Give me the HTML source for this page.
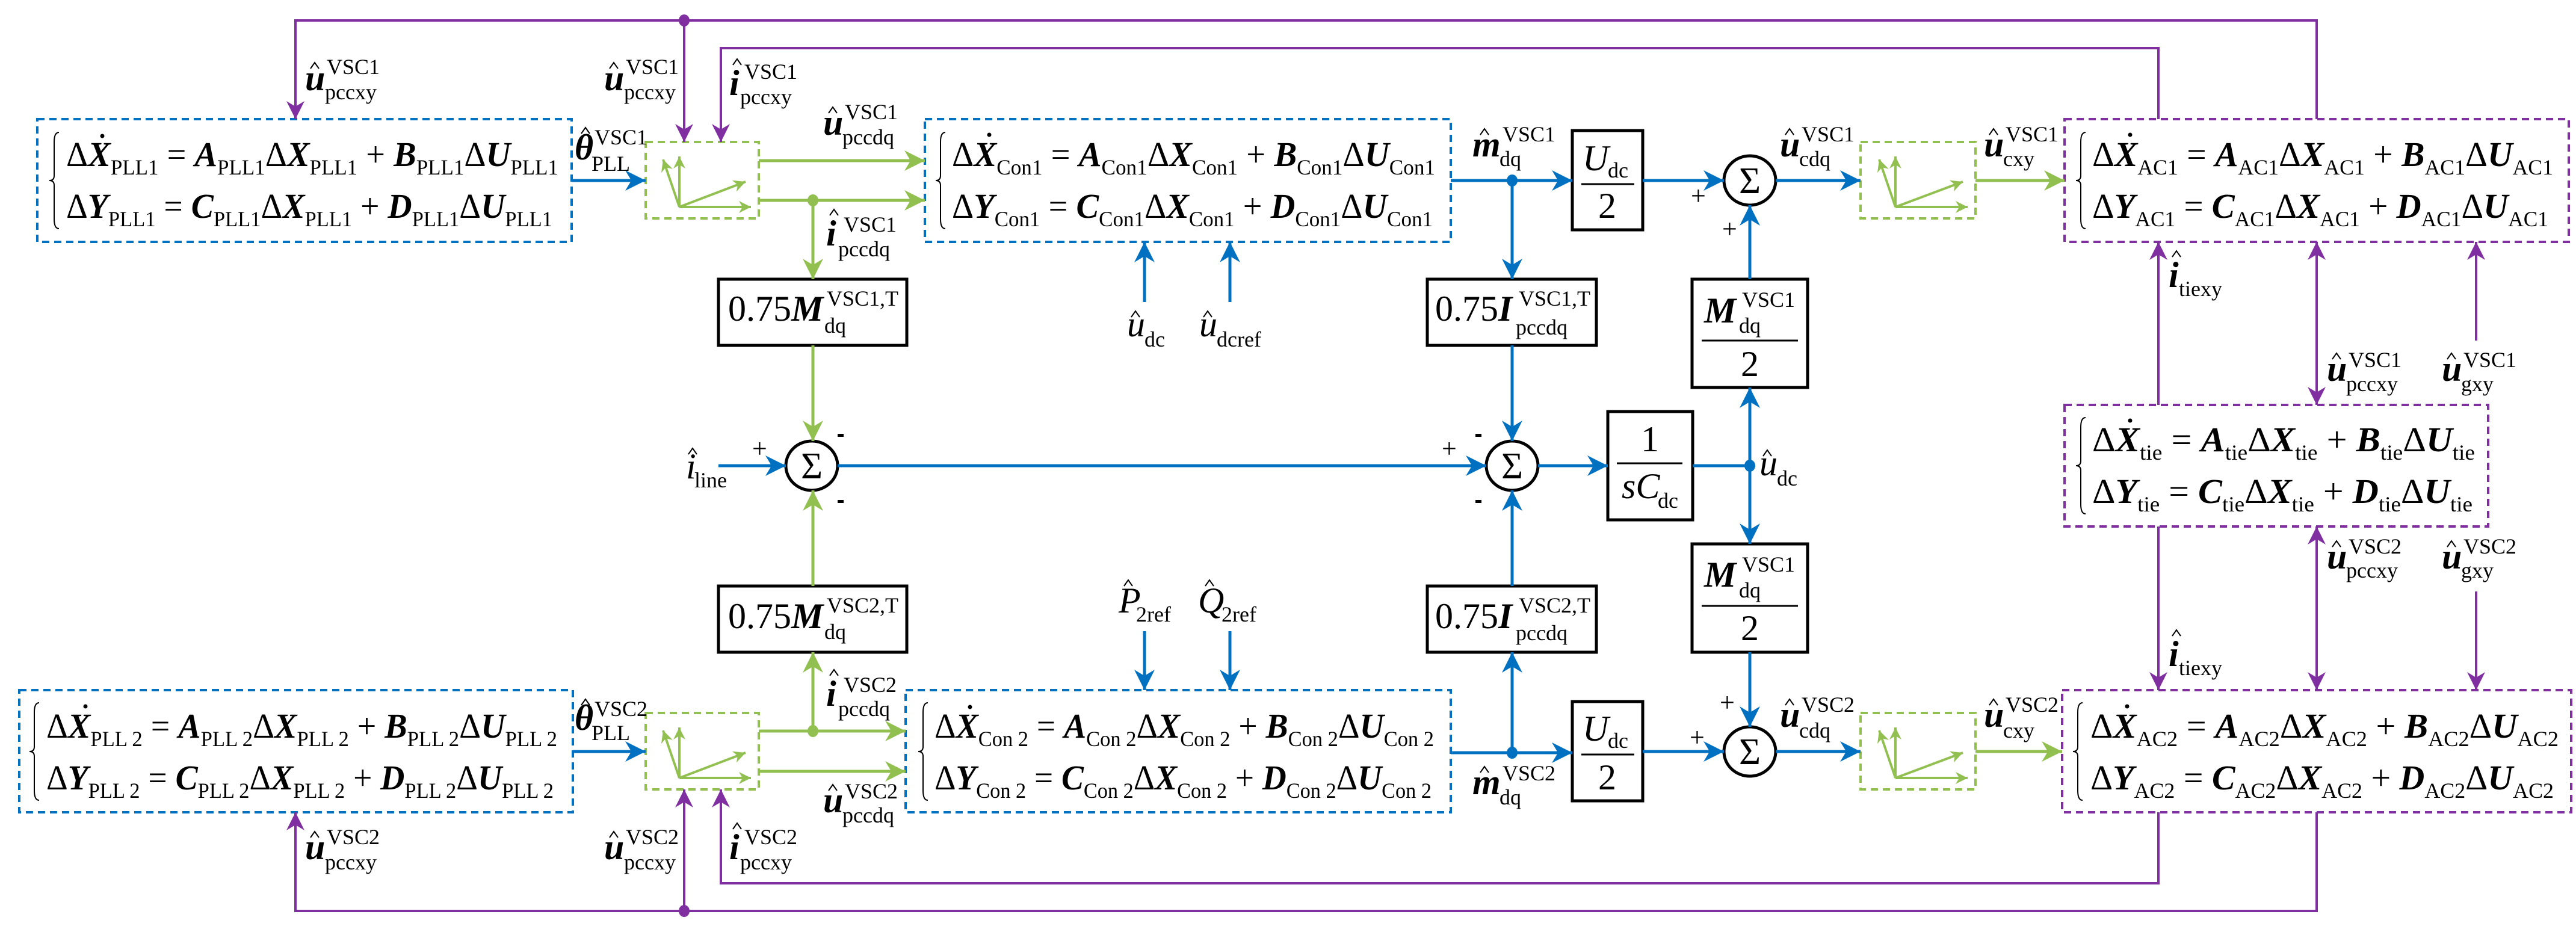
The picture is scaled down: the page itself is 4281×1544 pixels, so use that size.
<!DOCTYPE html>
<html><head><meta charset="utf-8"><style>
html,body{margin:0;padding:0;background:#fff}
svg{display:block;font-family:"Liberation Serif","DejaVu Serif",serif}
text,tspan{font-family:"Liberation Serif","DejaVu Serif",serif;fill:#000}
.eq{font-size:58px}
.bi{font-weight:bold;font-style:italic}
.it{font-style:italic}
.sb{font-size:36px}
.m{font-size:60px;font-weight:bold;font-style:italic}
.mi{font-size:60px;font-style:italic}
.s{font-size:36px}
.n{font-size:60px}
</style></head><body>
<svg width="4281" height="1544" viewBox="0 0 4281 1544" xmlns="http://www.w3.org/2000/svg" font-family="Liberation Serif, DejaVu Serif, serif">
<defs>
<marker id="ab" viewBox="0 0 10 10" refX="10" refY="5" markerWidth="38" markerHeight="34" markerUnits="userSpaceOnUse" orient="auto-start-reverse"><path d="M0,0L10,5L0,10L3,5z" fill="#0070C0"/></marker>
<marker id="ag" viewBox="0 0 10 10" refX="10" refY="5" markerWidth="38" markerHeight="34" markerUnits="userSpaceOnUse" orient="auto-start-reverse"><path d="M0,0L10,5L0,10L3,5z" fill="#92C050"/></marker>
<marker id="ags" viewBox="0 0 10 10" refX="10" refY="5" markerWidth="24" markerHeight="20" markerUnits="userSpaceOnUse" orient="auto-start-reverse"><path d="M0,0L10,5L0,10L3,5z" fill="#92C050"/></marker>
<marker id="ap" viewBox="0 0 10 10" refX="10" refY="5" markerWidth="36" markerHeight="30" markerUnits="userSpaceOnUse" orient="auto-start-reverse"><path d="M0,0L10,5L0,10L3,5z" fill="#7F2FA0"/></marker>
</defs>

<g fill="none" stroke-width="4" stroke-dasharray="12 8">
<rect x="62" y="198" width="888" height="204" stroke="#0070C0"/>
<rect x="1537" y="198" width="874" height="204" stroke="#0070C0"/>
<rect x="32" y="1147" width="920" height="203" stroke="#0070C0"/>
<rect x="1505" y="1147" width="906" height="203" stroke="#0070C0"/>
<rect x="1073" y="236" width="188" height="127" stroke="#92C050"/>
<rect x="1073" y="1185" width="188" height="127" stroke="#92C050"/>
<rect x="3092" y="236" width="191" height="127" stroke="#92C050"/>
<rect x="3092" y="1185" width="191" height="127" stroke="#92C050"/>
<rect x="3431" y="198" width="838" height="204" stroke="#7F2FA0"/>
<rect x="3431" y="673" width="704" height="202" stroke="#7F2FA0"/>
<rect x="3427" y="1147" width="846" height="203" stroke="#7F2FA0"/>
</g>

<g stroke="#92C050" stroke-width="4" fill="none">
<path d="M1129,344V260" marker-end="url(#ags)"/><path d="M1129,344L1102,265" marker-end="url(#ags)"/>
<path d="M1129,344H1248" marker-end="url(#ags)"/><path d="M1129,344L1239,302" marker-end="url(#ags)"/>
<path d="M1129,1293V1209" marker-end="url(#ags)"/><path d="M1129,1293L1102,1214" marker-end="url(#ags)"/>
<path d="M1129,1293H1248" marker-end="url(#ags)"/><path d="M1129,1293L1239,1251" marker-end="url(#ags)"/>
<path d="M3150,344V260" marker-end="url(#ags)"/><path d="M3150,344L3123,265" marker-end="url(#ags)"/>
<path d="M3150,344H3270" marker-end="url(#ags)"/><path d="M3150,344L3262,302" marker-end="url(#ags)"/>
<path d="M3150,1293V1209" marker-end="url(#ags)"/><path d="M3150,1293L3123,1214" marker-end="url(#ags)"/>
<path d="M3150,1293H3270" marker-end="url(#ags)"/><path d="M3150,1293L3262,1251" marker-end="url(#ags)"/>
</g>

<g fill="none" stroke="#000" stroke-width="5">
<rect x="1194" y="464" width="313" height="110"/>
<rect x="1194" y="974" width="313" height="110"/>
<rect x="2372" y="464" width="281" height="110"/>
<rect x="2372" y="974" width="281" height="110"/>
<rect x="2613" y="217" width="117" height="165"/>
<rect x="2613" y="1166" width="117" height="165"/>
<rect x="2672" y="684" width="141" height="180"/>
<rect x="2812" y="464" width="192" height="180"/>
<rect x="2812" y="904" width="192" height="180"/>
<ellipse cx="1349" cy="774" rx="43" ry="41"/>
<ellipse cx="2513" cy="774" rx="43" ry="41"/>
<ellipse cx="2908" cy="300" rx="43" ry="41"/>
<ellipse cx="2908" cy="1249" rx="43" ry="41"/>
<path d="M2628,306H2716M2628,1254H2716M2687,770H2796M2828,566H2988M2828,1007H2988" stroke-width="3"/>
</g>
<g font-size="62" text-anchor="middle">
<text x="1349" y="795">Σ</text><text x="2513" y="795">Σ</text>
<text x="2908" y="321">Σ</text><text x="2908" y="1270">Σ</text>
</g>

<g stroke="#0070C0" stroke-width="5" fill="none">
<path d="M950,300H1073" marker-end="url(#ab)"/>
<path d="M952,1249H1073" marker-end="url(#ab)"/>
<path d="M2411,300H2613" marker-end="url(#ab)"/>
<path d="M2513,300V464" marker-end="url(#ab)"/>
<path d="M2730,300H2865" marker-end="url(#ab)"/>
<path d="M2951,300H3092" marker-end="url(#ab)"/>
<path d="M1194,774H1306" marker-end="url(#ab)"/>
<path d="M1392,774H2470" marker-end="url(#ab)"/>
<path d="M2513,574V733" marker-end="url(#ab)"/>
<path d="M2556,774H2672" marker-end="url(#ab)"/>
<path d="M2813,774H2908"/>
<path d="M2908,774V644" marker-end="url(#ab)"/>
<path d="M2908,774V904" marker-end="url(#ab)"/>
<path d="M2908,464V341" marker-end="url(#ab)"/>
<path d="M2908,1084V1208" marker-end="url(#ab)"/>
<path d="M2411,1251H2613" marker-end="url(#ab)"/>
<path d="M2513,1251V1084" marker-end="url(#ab)"/>
<path d="M2513,974V815" marker-end="url(#ab)"/>
<path d="M2730,1249H2865" marker-end="url(#ab)"/>
<path d="M2951,1249H3092" marker-end="url(#ab)"/>
<path d="M1902,502V402" marker-end="url(#ab)"/>
<path d="M2044,502V402" marker-end="url(#ab)"/>
<path d="M1902,1049V1147" marker-end="url(#ab)"/>
<path d="M2044,1049V1147" marker-end="url(#ab)"/>
</g>
<g fill="#0070C0"><ellipse cx="2513" cy="300" rx="9" ry="10"/><ellipse cx="2513" cy="1251" rx="9" ry="10"/><ellipse cx="2908" cy="774" rx="9" ry="10"/></g>

<g stroke="#92C050" stroke-width="5" fill="none">
<path d="M1261,267H1537" marker-end="url(#ag)"/>
<path d="M1261,333H1537" marker-end="url(#ag)"/>
<path d="M1351,333V464" marker-end="url(#ag)"/>
<path d="M1351,574V733" marker-end="url(#ag)"/>
<path d="M1261,1215H1505" marker-end="url(#ag)"/>
<path d="M1261,1282H1505" marker-end="url(#ag)"/>
<path d="M1351,1215V1084" marker-end="url(#ag)"/>
<path d="M1351,974V815" marker-end="url(#ag)"/>
<path d="M3283,300H3431" marker-end="url(#ag)"/>
<path d="M3283,1249H3427" marker-end="url(#ag)"/>
</g>
<g fill="#92C050"><ellipse cx="1351" cy="333" rx="9" ry="10"/><ellipse cx="1351" cy="1215" rx="9" ry="10"/></g>

<g stroke="#7F2FA0" stroke-width="4" fill="none">
<path d="M3850,198V34H491V198" marker-end="url(#ap)"/>
<path d="M1137,34V236" marker-end="url(#ap)"/>
<path d="M3587,198V80H1198V236" marker-end="url(#ap)"/>
<path d="M3850,1350V1514H491V1350" marker-end="url(#ap)"/>
<path d="M1137,1514V1312" marker-end="url(#ap)"/>
<path d="M3587,1350V1468H1198V1312" marker-end="url(#ap)"/>
<path d="M3587,673V402" marker-end="url(#ap)"/>
<path d="M3850,673V402" marker-start="url(#ap)" marker-end="url(#ap)"/>
<path d="M4115,566V402" marker-end="url(#ap)"/>
<path d="M3587,875V1147" marker-end="url(#ap)"/>
<path d="M3850,875V1147" marker-start="url(#ap)" marker-end="url(#ap)"/>
<path d="M4115,983V1147" marker-end="url(#ap)"/>
</g>
<g fill="#7F2FA0"><ellipse cx="1137" cy="34" rx="9" ry="10"/><ellipse cx="1137" cy="1514" rx="9" ry="10"/></g>

<g fill="none" stroke="#000" stroke-width="2">
<path d="M98,220Q90,220 90,236V292Q90,300 82,300Q90,300 90,308V364Q90,380 98,380"/>
<path d="M1571,220Q1563,220 1563,236V292Q1563,300 1555,300Q1563,300 1563,308V364Q1563,380 1571,380"/>
<path d="M3466,220Q3458,220 3458,236V292Q3458,300 3450,300Q3458,300 3458,308V364Q3458,380 3466,380"/>
<path d="M3466,694Q3458,694 3458,710V766Q3458,774 3450,774Q3458,774 3458,782V838Q3458,854 3466,854"/>
<path d="M65,1168Q57,1168 57,1184V1241Q57,1249 49,1249Q57,1249 57,1257V1314Q57,1330 65,1330"/>
<path d="M1542,1168Q1534,1168 1534,1184V1241Q1534,1249 1526,1249Q1534,1249 1534,1257V1314Q1534,1330 1542,1330"/>
<path d="M3461,1168Q3453,1168 3453,1184V1241Q3453,1249 3445,1249Q3453,1249 3453,1257V1314Q3453,1330 3461,1330"/>
</g>

<g class="eq">
<text x="110" y="276" textLength="818" lengthAdjust="spacingAndGlyphs">Δ<tspan class="bi">X</tspan><tspan class="sb" dy="14">PLL1</tspan><tspan dy="-14"> = </tspan><tspan class="bi">A</tspan><tspan class="sb" dy="14">PLL1</tspan><tspan dy="-14">Δ</tspan><tspan class="bi">X</tspan><tspan class="sb" dy="14">PLL1</tspan><tspan dy="-14"> + </tspan><tspan class="bi">B</tspan><tspan class="sb" dy="14">PLL1</tspan><tspan dy="-14">Δ</tspan><tspan class="bi">U</tspan><tspan class="sb" dy="14">PLL1</tspan></text>
<text x="110" y="362" textLength="808" lengthAdjust="spacingAndGlyphs">Δ<tspan class="bi">Y</tspan><tspan class="sb" dy="14">PLL1</tspan><tspan dy="-14"> = </tspan><tspan class="bi">C</tspan><tspan class="sb" dy="14">PLL1</tspan><tspan dy="-14">Δ</tspan><tspan class="bi">X</tspan><tspan class="sb" dy="14">PLL1</tspan><tspan dy="-14"> + </tspan><tspan class="bi">D</tspan><tspan class="sb" dy="14">PLL1</tspan><tspan dy="-14">Δ</tspan><tspan class="bi">U</tspan><tspan class="sb" dy="14">PLL1</tspan></text>

<text x="1582" y="276" textLength="803" lengthAdjust="spacingAndGlyphs">Δ<tspan class="bi">X</tspan><tspan class="sb" dy="14">Con1</tspan><tspan dy="-14"> = </tspan><tspan class="bi">A</tspan><tspan class="sb" dy="14">Con1</tspan><tspan dy="-14">Δ</tspan><tspan class="bi">X</tspan><tspan class="sb" dy="14">Con1</tspan><tspan dy="-14"> + </tspan><tspan class="bi">B</tspan><tspan class="sb" dy="14">Con1</tspan><tspan dy="-14">Δ</tspan><tspan class="bi">U</tspan><tspan class="sb" dy="14">Con1</tspan></text>
<text x="1582" y="362" textLength="799" lengthAdjust="spacingAndGlyphs">Δ<tspan class="bi">Y</tspan><tspan class="sb" dy="14">Con1</tspan><tspan dy="-14"> = </tspan><tspan class="bi">C</tspan><tspan class="sb" dy="14">Con1</tspan><tspan dy="-14">Δ</tspan><tspan class="bi">X</tspan><tspan class="sb" dy="14">Con1</tspan><tspan dy="-14"> + </tspan><tspan class="bi">D</tspan><tspan class="sb" dy="14">Con1</tspan><tspan dy="-14">Δ</tspan><tspan class="bi">U</tspan><tspan class="sb" dy="14">Con1</tspan></text>

<text x="3477" y="276" textLength="766" lengthAdjust="spacingAndGlyphs">Δ<tspan class="bi">X</tspan><tspan class="sb" dy="14">AC1</tspan><tspan dy="-14"> = </tspan><tspan class="bi">A</tspan><tspan class="sb" dy="14">AC1</tspan><tspan dy="-14">Δ</tspan><tspan class="bi">X</tspan><tspan class="sb" dy="14">AC1</tspan><tspan dy="-14"> + </tspan><tspan class="bi">B</tspan><tspan class="sb" dy="14">AC1</tspan><tspan dy="-14">Δ</tspan><tspan class="bi">U</tspan><tspan class="sb" dy="14">AC1</tspan></text>
<text x="3477" y="362" textLength="758" lengthAdjust="spacingAndGlyphs">Δ<tspan class="bi">Y</tspan><tspan class="sb" dy="14">AC1</tspan><tspan dy="-14"> = </tspan><tspan class="bi">C</tspan><tspan class="sb" dy="14">AC1</tspan><tspan dy="-14">Δ</tspan><tspan class="bi">X</tspan><tspan class="sb" dy="14">AC1</tspan><tspan dy="-14"> + </tspan><tspan class="bi">D</tspan><tspan class="sb" dy="14">AC1</tspan><tspan dy="-14">Δ</tspan><tspan class="bi">U</tspan><tspan class="sb" dy="14">AC1</tspan></text>

<text x="3477" y="750" textLength="636" lengthAdjust="spacingAndGlyphs">Δ<tspan class="bi">X</tspan><tspan class="sb" dy="14">tie</tspan><tspan dy="-14"> = </tspan><tspan class="bi">A</tspan><tspan class="sb" dy="14">tie</tspan><tspan dy="-14">Δ</tspan><tspan class="bi">X</tspan><tspan class="sb" dy="14">tie</tspan><tspan dy="-14"> + </tspan><tspan class="bi">B</tspan><tspan class="sb" dy="14">tie</tspan><tspan dy="-14">Δ</tspan><tspan class="bi">U</tspan><tspan class="sb" dy="14">tie</tspan></text>
<text x="3477" y="836" textLength="632" lengthAdjust="spacingAndGlyphs">Δ<tspan class="bi">Y</tspan><tspan class="sb" dy="14">tie</tspan><tspan dy="-14"> = </tspan><tspan class="bi">C</tspan><tspan class="sb" dy="14">tie</tspan><tspan dy="-14">Δ</tspan><tspan class="bi">X</tspan><tspan class="sb" dy="14">tie</tspan><tspan dy="-14"> + </tspan><tspan class="bi">D</tspan><tspan class="sb" dy="14">tie</tspan><tspan dy="-14">Δ</tspan><tspan class="bi">U</tspan><tspan class="sb" dy="14">tie</tspan></text>

<text x="77" y="1226" textLength="849" lengthAdjust="spacingAndGlyphs">Δ<tspan class="bi">X</tspan><tspan class="sb" dy="14">PLL 2</tspan><tspan dy="-14"> = </tspan><tspan class="bi">A</tspan><tspan class="sb" dy="14">PLL 2</tspan><tspan dy="-14">Δ</tspan><tspan class="bi">X</tspan><tspan class="sb" dy="14">PLL 2</tspan><tspan dy="-14"> + </tspan><tspan class="bi">B</tspan><tspan class="sb" dy="14">PLL 2</tspan><tspan dy="-14">Δ</tspan><tspan class="bi">U</tspan><tspan class="sb" dy="14">PLL 2</tspan></text>
<text x="77" y="1312" textLength="843" lengthAdjust="spacingAndGlyphs">Δ<tspan class="bi">Y</tspan><tspan class="sb" dy="14">PLL 2</tspan><tspan dy="-14"> = </tspan><tspan class="bi">C</tspan><tspan class="sb" dy="14">PLL 2</tspan><tspan dy="-14">Δ</tspan><tspan class="bi">X</tspan><tspan class="sb" dy="14">PLL 2</tspan><tspan dy="-14"> + </tspan><tspan class="bi">D</tspan><tspan class="sb" dy="14">PLL 2</tspan><tspan dy="-14">Δ</tspan><tspan class="bi">U</tspan><tspan class="sb" dy="14">PLL 2</tspan></text>

<text x="1553" y="1226" textLength="830" lengthAdjust="spacingAndGlyphs">Δ<tspan class="bi">X</tspan><tspan class="sb" dy="14">Con 2</tspan><tspan dy="-14"> = </tspan><tspan class="bi">A</tspan><tspan class="sb" dy="14">Con 2</tspan><tspan dy="-14">Δ</tspan><tspan class="bi">X</tspan><tspan class="sb" dy="14">Con 2</tspan><tspan dy="-14"> + </tspan><tspan class="bi">B</tspan><tspan class="sb" dy="14">Con 2</tspan><tspan dy="-14">Δ</tspan><tspan class="bi">U</tspan><tspan class="sb" dy="14">Con 2</tspan></text>
<text x="1553" y="1312" textLength="826" lengthAdjust="spacingAndGlyphs">Δ<tspan class="bi">Y</tspan><tspan class="sb" dy="14">Con 2</tspan><tspan dy="-14"> = </tspan><tspan class="bi">C</tspan><tspan class="sb" dy="14">Con 2</tspan><tspan dy="-14">Δ</tspan><tspan class="bi">X</tspan><tspan class="sb" dy="14">Con 2</tspan><tspan dy="-14"> + </tspan><tspan class="bi">D</tspan><tspan class="sb" dy="14">Con 2</tspan><tspan dy="-14">Δ</tspan><tspan class="bi">U</tspan><tspan class="sb" dy="14">Con 2</tspan></text>

<text x="3474" y="1226" textLength="778" lengthAdjust="spacingAndGlyphs">Δ<tspan class="bi">X</tspan><tspan class="sb" dy="14">AC2</tspan><tspan dy="-14"> = </tspan><tspan class="bi">A</tspan><tspan class="sb" dy="14">AC2</tspan><tspan dy="-14">Δ</tspan><tspan class="bi">X</tspan><tspan class="sb" dy="14">AC2</tspan><tspan dy="-14"> + </tspan><tspan class="bi">B</tspan><tspan class="sb" dy="14">AC2</tspan><tspan dy="-14">Δ</tspan><tspan class="bi">U</tspan><tspan class="sb" dy="14">AC2</tspan></text>
<text x="3474" y="1312" textLength="770" lengthAdjust="spacingAndGlyphs">Δ<tspan class="bi">Y</tspan><tspan class="sb" dy="14">AC2</tspan><tspan dy="-14"> = </tspan><tspan class="bi">C</tspan><tspan class="sb" dy="14">AC2</tspan><tspan dy="-14">Δ</tspan><tspan class="bi">X</tspan><tspan class="sb" dy="14">AC2</tspan><tspan dy="-14"> + </tspan><tspan class="bi">D</tspan><tspan class="sb" dy="14">AC2</tspan><tspan dy="-14">Δ</tspan><tspan class="bi">U</tspan><tspan class="sb" dy="14">AC2</tspan></text>
</g>
<g fill="#000"><circle cx="170" cy="226" r="3.5"/><circle cx="1644" cy="224" r="3.5"/><circle cx="3540" cy="224" r="3.5"/><circle cx="3540" cy="699" r="3.5"/><circle cx="142" cy="1174" r="3.5"/><circle cx="1612" cy="1175" r="3.5"/><circle cx="3535" cy="1174" r="3.5"/></g>

<text x="1210" y="533"><tspan class="n">0.75</tspan><tspan class="m">M</tspan></text><text x="1374" y="508" class="s">VSC1,T</text><text x="1370" y="553" class="s">dq</text>
<text x="1210" y="1044"><tspan class="n">0.75</tspan><tspan class="m">M</tspan></text><text x="1374" y="1018" class="s">VSC2,T</text><text x="1370" y="1062" class="s">dq</text>
<text x="2385" y="533"><tspan class="n">0.75</tspan><tspan class="m">I</tspan></text><text x="2524" y="508" class="s">VSC1,T</text><text x="2519" y="556" class="s">pccdq</text>
<text x="2385" y="1044"><tspan class="n">0.75</tspan><tspan class="m">I</tspan></text><text x="2524" y="1018" class="s">VSC2,T</text><text x="2519" y="1064" class="s">pccdq</text>
<text x="2630" y="283" class="mi">U</text><text x="2672" y="295" class="s">dc</text><text x="2671" y="362" class="n" text-anchor="middle">2</text>
<text x="2630" y="1231" class="mi">U</text><text x="2672" y="1243" class="s">dc</text><text x="2671" y="1312" class="n" text-anchor="middle">2</text>
<text x="2742" y="750" class="n" text-anchor="middle">1</text><text x="2695" y="828" class="mi">sC</text><text x="2755" y="844" class="s">dc</text>
<text x="2832" y="536" class="m">M</text><text x="2895" y="510" class="s">VSC1</text><text x="2890" y="553" class="s">dq</text><text x="2908" y="625" class="n" text-anchor="middle">2</text>
<text x="2832" y="975" class="m">M</text><text x="2895" y="950" class="s">VSC1</text><text x="2890" y="993" class="s">dq</text><text x="2908" y="1064" class="n" text-anchor="middle">2</text>

<g font-size="44"><text x="1250" y="760">+</text><text x="2396" y="760">+</text><text x="2810" y="340">+</text><text x="2862" y="395">+</text><text x="2808" y="1240">+</text><text x="2858" y="1182">+</text></g>
<g fill="#000"><rect x="1392" y="721" width="10" height="5"/><rect x="1392" y="831" width="10" height="5"/><rect x="2452" y="721" width="10" height="5"/><rect x="2452" y="831" width="10" height="5"/></g>

<g>
<text x="507" y="150" class="m">u</text><text x="543" y="123" class="s">VSC1</text><text x="540" y="165" class="s">pccxy</text>
<text x="1004" y="150" class="m">u</text><text x="1040" y="123" class="s">VSC1</text><text x="1037" y="165" class="s">pccxy</text>
<text x="1212" y="158" class="m">i</text><text x="1237" y="131" class="s">VSC1</text><text x="1230" y="173" class="s">pccxy</text>
<text x="955" y="265" class="m">θ</text><text x="988" y="240" class="s">VSC1</text><text x="983" y="284" class="s">PLL</text>
<text x="1368" y="224" class="m">u</text><text x="1404" y="198" class="s">VSC1</text><text x="1400" y="240" class="s">pccdq</text>
<text x="1373" y="408" class="m">i</text><text x="1402" y="385" class="s">VSC1</text><text x="1393" y="426" class="s">pccdq</text>
<text x="2447" y="260" class="m">m</text><text x="2497" y="235" class="s">VSC1</text><text x="2492" y="276" class="s">dq</text>
<text x="2958" y="260" class="m">u</text><text x="2994" y="235" class="s">VSC1</text><text x="2990" y="276" class="s">cdq</text>
<text x="3297" y="260" class="m">u</text><text x="3333" y="235" class="s">VSC1</text><text x="3329" y="276" class="s">cxy</text>
<text x="3604" y="477" class="m">i</text><text x="3621" y="492" class="s">tiexy</text>
<text x="3867" y="633" class="m">u</text><text x="3903" y="610" class="s">VSC1</text><text x="3899" y="650" class="s">pccxy</text>
<text x="4058" y="633" class="m">u</text><text x="4094" y="610" class="s">VSC1</text><text x="4090" y="650" class="s">gxy</text>
<text x="1873" y="559" class="mi">u</text><text x="1902" y="576" class="s">dc</text>
<text x="1993" y="559" class="mi">u</text><text x="2022" y="576" class="s">dcref</text>
<text x="1140" y="795" class="mi">i</text><text x="1154" y="810" class="s">line</text>
<text x="2924" y="790" class="mi">u</text><text x="2953" y="807" class="s">dc</text>

<text x="955" y="1213" class="m">θ</text><text x="988" y="1190" class="s">VSC2</text><text x="983" y="1230" class="s">PLL</text>
<text x="1373" y="1173" class="m">i</text><text x="1402" y="1150" class="s">VSC2</text><text x="1393" y="1190" class="s">pccdq</text>
<text x="1368" y="1350" class="m">u</text><text x="1404" y="1327" class="s">VSC2</text><text x="1400" y="1367" class="s">pccdq</text>
<text x="507" y="1428" class="m">u</text><text x="543" y="1403" class="s">VSC2</text><text x="540" y="1445" class="s">pccxy</text>
<text x="1004" y="1428" class="m">u</text><text x="1040" y="1403" class="s">VSC2</text><text x="1037" y="1445" class="s">pccxy</text>
<text x="1212" y="1428" class="m">i</text><text x="1237" y="1403" class="s">VSC2</text><text x="1230" y="1445" class="s">pccxy</text>
<text x="1859" y="1018" class="mi">P</text><text x="1888" y="1033" class="s">2ref</text>
<text x="1991" y="1018" class="mi">Q</text><text x="2030" y="1033" class="s">2ref</text>
<text x="2447" y="1320" class="m">m</text><text x="2497" y="1297" class="s">VSC2</text><text x="2492" y="1337" class="s">dq</text>
<text x="2958" y="1208" class="m">u</text><text x="2994" y="1183" class="s">VSC2</text><text x="2990" y="1226" class="s">cdq</text>
<text x="3297" y="1208" class="m">u</text><text x="3333" y="1183" class="s">VSC2</text><text x="3329" y="1226" class="s">cxy</text>
<text x="3604" y="1107" class="m">i</text><text x="3621" y="1122" class="s">tiexy</text>
<text x="3867" y="945" class="m">u</text><text x="3903" y="920" class="s">VSC2</text><text x="3899" y="960" class="s">pccxy</text>
<text x="4058" y="945" class="m">u</text><text x="4094" y="920" class="s">VSC2</text><text x="4090" y="960" class="s">gxy</text>
</g>
<g fill="none" stroke="#000" stroke-width="2">
<path d="M516,114l7,-10l7,10M1013,114l7,-10l7,10M1218,108l7,-10l7,10M966,222l7,-10l7,10M1377,188l7,-10l7,10M1379,358l7,-10l7,10M2460,224l7,-10l7,10M2967,224l7,-10l7,10M3306,224l7,-10l7,10M3610,427l7,-10l7,10M3876,597l7,-10l7,10M4067,597l7,-10l7,10M1880,527l7,-10l7,10M2000,527l7,-10l7,10M1144,755l7,-10l7,10M2930,758l7,-10l7,10"/>
<path d="M966,1172l7,-10l7,10M1379,1123l7,-10l7,10M1377,1314l7,-10l7,10M516,1392l7,-10l7,10M1013,1392l7,-10l7,10M1218,1378l7,-10l7,10M1868,974l7,-10l7,10M2003,974l7,-10l7,10M2460,1284l7,-10l7,10M2967,1172l7,-10l7,10M3306,1172l7,-10l7,10M3610,1057l7,-10l7,10M3876,909l7,-10l7,10M4067,909l7,-10l7,10"/>
</g>
</svg>
</body></html>
